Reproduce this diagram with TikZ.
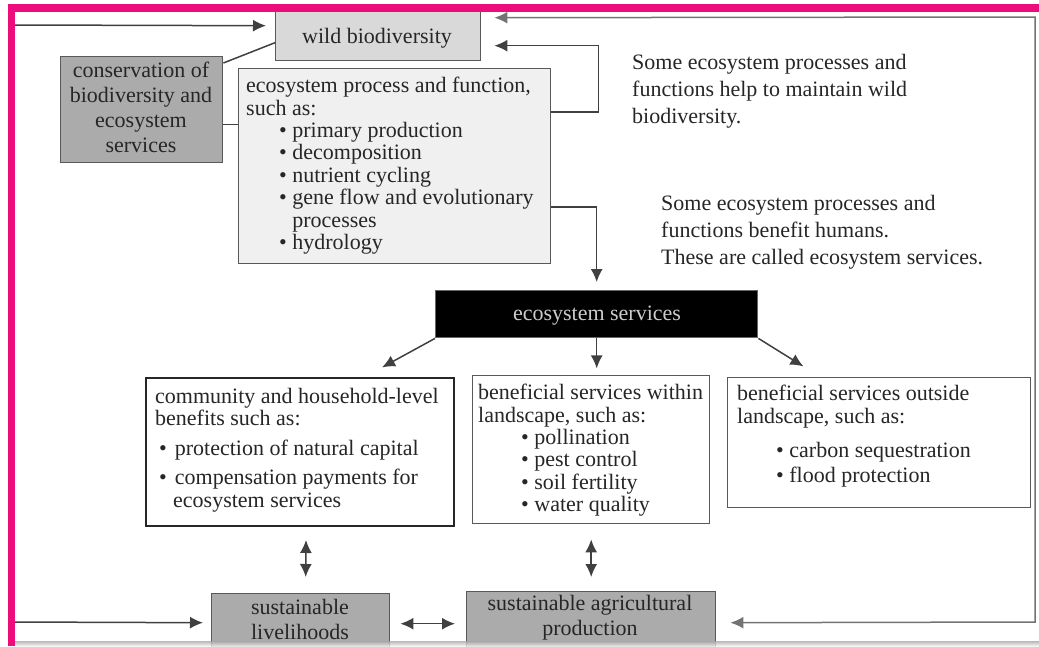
\documentclass[tikz,border=0pt]{standalone}
\usepackage{fontspec}
\setmainfont{Liberation Serif}
\usetikzlibrary{arrows.meta,calc}
\definecolor{framepink}{HTML}{EC0C7C}
\definecolor{inkgray}{HTML}{262626}
\definecolor{wildfill}{HTML}{D9D9D9}
\definecolor{darkfill}{HTML}{ABABAB}
\definecolor{procfill}{HTML}{F0F0F0}
\tikzset{
  box/.style={draw=black!65, line width=1.4pt, inner sep=0pt, anchor=north west},
  txt/.style={inner sep=0pt, text=inkgray, font=\fontsize{22}{22.4}\selectfont, align=left, anchor=north west},
  ctxt/.style={inner sep=0pt, text=inkgray, font=\fontsize{22}{25}\selectfont, align=center},
  link/.style={draw=black!75, line width=1.5pt},
  tip/.tip={Latex[length=13pt,width=12pt]},
  arr/.style={link, -tip},
  dblarr/.style={link, tip-tip},
}
\newcommand{\itm}{\textbullet\ }
\begin{document}
\begin{tikzpicture}[x=1pt,y=-1pt]
\useasboundingbox (0,0) rectangle (1039,646);

% boxes
\node[box, fill=wildfill, minimum width=205pt, minimum height=52pt] (wild) at (275,8) {};
\node[txt, anchor=center] (wildT) at (377,38) {wild biodiversity};

\node[box, fill=darkfill, minimum width=162pt, minimum height=106pt] (cons) at (60,56) {};
\node[ctxt] (consT) at (141,107) {conservation of\\biodiversity and\\ecosystem\\services};

\node[box, fill=procfill, minimum width=312pt, minimum height=195pt] (proc) at (238,68) {};
\node[txt] (procT) at (246,77) {ecosystem process and function,\\
such as:\\
\hspace*{33pt}\itm primary production\\
\hspace*{33pt}\itm decomposition\\
\hspace*{33pt}\itm nutrient cycling\\
\hspace*{33pt}\itm gene flow and evolutionary\\
\hspace*{33pt}\phantom{\itm}processes\\
\hspace*{33pt}\itm hydrology};

\node[box, fill=black, draw=black!60, minimum width=322pt, minimum height=47pt] (serv) at (435,290) {};
\node[txt, anchor=center, text=black!20] (servT) at (597,316) {ecosystem services};

\node[box, fill=white, draw=black!85, line width=2pt, minimum width=308pt, minimum height=148pt] (comm) at (145,377) {};
\node[txt] (commT) at (155,388) {community and household-level\\
benefits such as:\\[7.5pt]
\hspace*{4pt}\textbullet\hspace{8pt}protection of natural capital\\[6.5pt]
\hspace*{4pt}\textbullet\hspace{8pt}compensation payments for\\
\hspace*{18pt}ecosystem services};

\node[box, fill=white, minimum width=237pt, minimum height=148pt] (within) at (472,375) {};
\node[txt] (withinT) at (478,384) {beneficial services within\\
landscape, such as:\\
\hspace*{43pt}\itm pollination\\
\hspace*{43pt}\itm pest control\\
\hspace*{43pt}\itm soil fertility\\
\hspace*{43pt}\itm water quality};

\node[box, fill=white, minimum width=303pt, minimum height=130pt] (outside) at (727,377) {};
\node[txt] (outsideT) at (737,385) {beneficial services outside\\
landscape, such as:\\[12.5pt]
\hspace*{39pt}\itm carbon sequestration\\[2.5pt]
\hspace*{39pt}\itm flood protection};

\node[box, fill=darkfill, minimum width=178pt, minimum height=62pt] (liv) at (211,593) {};
\node[ctxt] (livT) at (300,619) {sustainable\\livelihoods};

\node[box, fill=darkfill, minimum width=249pt, minimum height=64pt] (agri) at (466,591) {};
\node[ctxt] (agriT) at (590,618) {sustainable agricultural\\production};

% side notes
\node[txt, font=\fontsize{22}{27}\selectfont] (note1) at (632,54) {Some ecosystem processes and\\
functions help to maintain wild\\
biodiversity.};
\node[txt, font=\fontsize{22}{27}\selectfont] (note2) at (661,195) {Some ecosystem processes and\\
functions benefit humans.\\
These are called ecosystem services.};

% connectors around the top boxes
\draw[link] ($(cons.north east)+(0,7)$) -- ($(wild.west)+(0,8)$);
\draw[link] ($(cons.east)+(0,15)$) coordinate (c1) -- (c1 -| proc.west);
\draw[arr] ($(proc.north east)+(0,44)$) -- ++(47,0) |- ($(wild.east)+(13,11)$);
\draw[arr] ($(proc.north east)+(0,139)$) -| ($(serv.north)+(0,-8)$);

% services fan out
\draw[arr] (serv.south west) -- ($(serv.south west)+(-53,29)$);
\draw[arr] (serv.south) -- ($(serv.south)+(0,30)$);
\draw[arr] (serv.south east) -- ($(serv.south east)+(45,28)$);

% two-way links to the bottom row
\draw[dblarr] ($(comm.south)+(6,13)$) -- ($(liv.north)+(5,-16)$);
\draw[dblarr] ($(within.south)+(0,15)$) -- ($(agri.north)+(0,-14)$);
\draw[dblarr] ($(liv.east)+(10,-1)$) -- ($(agri.west)+(-11,0)$);

% outer loops along the frame
\coordinate (Lt) at (12,25);
\coordinate (Lb) at (12,622);
\coordinate (Rt) at (1035,17);
\coordinate (Rb) at (1035,622);
\draw[dblarr] ($(wild.west)+(-9,-9)$) -- (Lt) -- (Lb) -- ($(liv.west)+(-8,-2)$);
\draw[dblarr, draw=black!55] ($(wild.east)+(13,-17)$) -- (Rt) -- (Rb) -- ($(agri.east)+(14,-1)$);

% frame
\fill[framepink] (8,4) rectangle (1039,12);
\fill[framepink] (8,4) rectangle (15,646);
\shade[top color=black!35, bottom color=black!5, opacity=0.8] (15,641) rectangle (1039,646);
\end{tikzpicture}
\end{document}
